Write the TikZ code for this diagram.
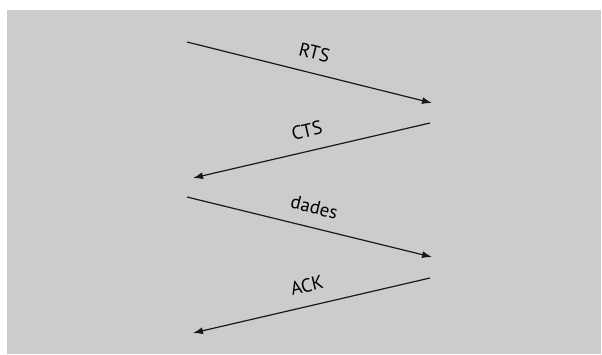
\documentclass[tikz,border=0pt]{standalone}
\usepackage{fontspec}
\setmainfont{PT Sans}
\usetikzlibrary{arrows.meta}
\tikzset{>={Latex[length=10pt,width=7pt]}}
\definecolor{fons}{HTML}{CCCCCC}
\tikzstyle{msg}=[->,line width=1.2pt,draw=black!90]
\tikzstyle{msglabel}=[midway,sloped,above=11pt,inner sep=2pt,font=\fontsize{19}{21}\selectfont]

\begin{document}
\begin{tikzpicture}[x=1pt,y=-1pt]
\def \picw {602};
\def \pich {354};

\useasboundingbox (0,0) rectangle (\picw,\pich);
\fill[fons] (7,10) rectangle (601,\pich);

\foreach \lab/\xa/\ya/\xb/\yb in {RTS/187/42/432/103, CTS/430/123/193/178,
                                  dades/187/197/432/257, ACK/430/278/193/333} {
	\coordinate (\lab-from) at (\xa,\ya);
	\coordinate (\lab-to) at (\xb,\yb);
	\draw[msg] (\lab-from) -- (\lab-to) node[msglabel] {\lab};
};

\end{tikzpicture}
\end{document}
